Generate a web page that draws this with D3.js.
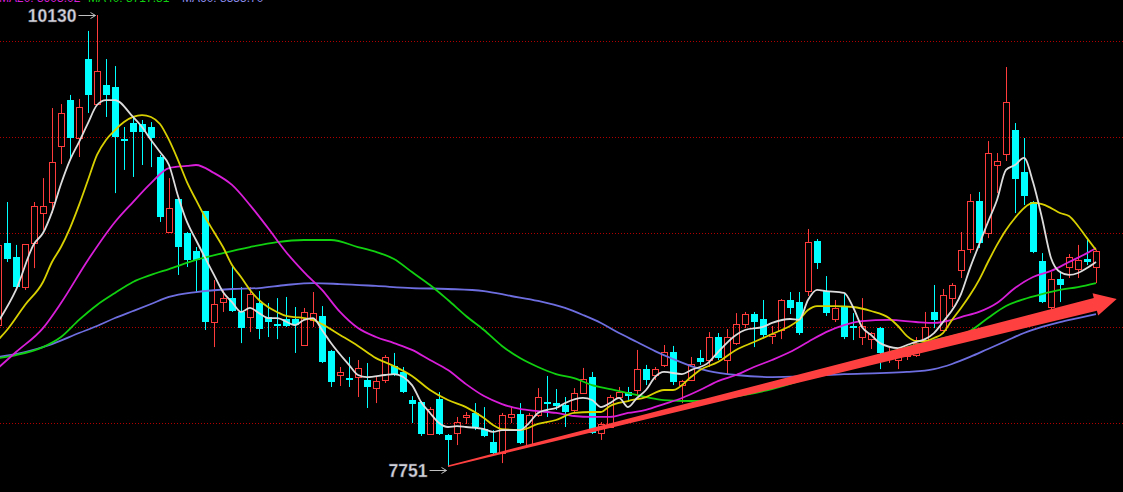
<!DOCTYPE html>
<html><head><meta charset="utf-8">
<script src="https://cdn.jsdelivr.net/npm/d3@7"></script>
<style>html,body{margin:0;padding:0;background:#000;overflow:hidden}</style>
</head><body>
<svg id="c" width="1123" height="492"></svg>
<script>
// ---- data ----
const openP = [8497,8929,8855,8697,8929,9087,9145,9440,9682,9482,
9898,9661,9761,9751,9477,9561,9556,9540,9382,8987,
9161,8982,8887,9098,8513,8618,8639,8566,8539,8613,
8539,8502,8529,8529,8392,8524,8545,8360,8234,8218,
8223,8208,8165,8208,8281,8250,8102,8092,7923,8107,
7918,7928,8013,8034,7949,7881,7823,8013,8028,7865,
8023,8092,8086,8076,8050,8139,8223,7928,7960,8118,
8144,8155,8265,8234,8287,8355,8181,8208,8323,8313,
8434,8313,8402,8502,8555,8529,8439,8471,8629,8618,
8676,8940,8676,8529,8592,8492,8434,8423,8481,8323,
8313,8334,8339,8418,8566,8471,8639,8787,8898,9150,
8982,9340,9398,9524,9303,9145,8834,8592,8740,8803,
8792,8845,8803];
const highP = [8982,9145,8919,8924,9145,9271,9640,9661,9709,9688,
10046,10130,9898,9861,9540,9593,9577,9566,9393,9271,
9171,8987,8908,9098,8734,8682,8803,8697,8697,8676,
8613,8639,8645,8592,8587,8671,8597,8366,8276,8329,
8313,8297,8223,8339,8350,8276,8123,8097,8065,8144,
7923,8013,8039,8086,8065,7944,8034,8065,8086,8034,
8165,8229,8160,8118,8165,8271,8250,7986,8129,8171,
8171,8366,8287,8276,8392,8387,8208,8329,8366,8460,
8455,8476,8560,8566,8566,8629,8492,8634,8671,8671,
9003,8950,8755,8629,8660,8560,8639,8460,8487,8376,
8366,8387,8434,8566,8708,8687,8718,8987,9187,9198,
9466,9403,9856,9561,9482,9150,8876,8776,8782,8871,
8919,8955,8892];
const lowP = [8487,8829,8682,8682,8797,8998,9087,9345,9372,9382,
9614,9656,9593,9192,9314,9277,9340,9329,9040,8982,
8761,8803,8666,8471,8381,8566,8566,8402,8460,8423,
8434,8423,8487,8350,8387,8487,8297,8171,8176,8171,
8118,8060,8086,8192,8229,8139,7981,7913,7918,7918,
7751,7865,7976,7944,7907,7818,7770,7981,7870,7855,
8013,8013,8050,7960,8034,8134,7923,7892,7955,8113,
8092,8129,8181,8208,8276,8181,8086,8202,8287,8276,
8313,8239,8392,8481,8381,8434,8397,8423,8555,8445,
8650,8792,8545,8513,8423,8418,8392,8371,8265,8297,
8265,8313,8329,8413,8481,8466,8592,8745,8876,8903,
8955,9192,9361,9087,9129,8876,8613,8576,8618,8745,
8745,8813,8718];
const closeP = [8919,8845,8697,8924,9124,9124,9356,9614,9482,9645,
9709,9835,9709,9487,9466,9514,9514,9482,9066,9113,
8908,8840,8840,8513,8608,8639,8571,8481,8660,8476,
8513,8497,8492,8497,8566,8560,8302,8197,8250,8208,
8271,8171,8202,8329,8234,8144,8081,7923,8055,7923,
7892,7986,8023,7960,7913,7823,8023,8028,7876,8023,
8118,8081,8071,8039,8139,8213,7928,7976,8118,8144,
8123,8265,8208,8265,8355,8197,8202,8292,8302,8434,
8323,8434,8502,8555,8513,8445,8450,8629,8587,8455,
8934,8824,8560,8587,8434,8481,8492,8455,8350,8355,
8350,8366,8402,8487,8524,8655,8708,8892,9150,8929,
9403,9361,9672,9266,9177,8882,8618,8740,8708,8855,
8840,8829,8887];

// moving averages, sampled at candle indices
const ma5Idx = [0,2,4,5,6,7,8,9,10,11,12,13,15,16,17,18,19,20,21,22,24,25,26,27,28,29,30,31,33,34,35,36,37,39,40,41,43,44,46,47,48,49,50,51,52,54,55,56,58,59,60,61,62,63,65,66,67,68,69,70,71,72,73,74,76,77,79,80,82,83,85,86,88,89,90,91,92,94,95,96,97,98,100,101,102,103,104,105,107,108,109,110,111,112,113,114,115,116,117,118,119,120,121,122];
const ma5 = [8513,8682,8924,8982,9092,9240,9366,9461,9561,9656,9682,9682,9593,9540,9472,9408,9340,9177,9040,8945,8761,8671,8618,8566,8587,8560,8534,8534,8497,8524,8534,8471,8402,8287,8234,8223,8234,8239,8181,8092,8034,7981,7960,7965,7960,7949,7934,7944,7944,7981,8034,8050,8060,8086,8113,8102,8065,8086,8113,8065,8113,8155,8223,8250,8239,8260,8302,8355,8445,8471,8487,8508,8529,8524,8629,8682,8676,8666,8592,8487,8445,8402,8376,8392,8408,8423,8455,8513,8660,8797,8919,9040,9156,9314,9340,9377,9250,9061,8850,8776,8761,8771,8797,8829];
const ma10Idx = [0,1,3,5,6,7,8,9,10,11,12,13,14,15,16,17,18,19,20,21,22,23,24,25,26,27,28,29,30,31,32,33,34,35,36,38,40,42,44,46,48,50,52,54,55,56,58,60,62,64,66,67,68,70,72,74,75,77,78,80,82,84,86,88,89,90,91,93,95,97,99,100,101,102,103,104,105,106,107,108,109,110,111,112,113,114,115,116,117,118,119,120,121,122];
const ma10 = [8418,8471,8603,8724,8829,8908,9008,9129,9261,9393,9472,9524,9566,9593,9603,9593,9556,9472,9366,9250,9156,9066,8987,8908,8813,8750,8682,8629,8592,8566,8545,8539,8534,8524,8502,8445,8387,8323,8281,8229,8155,8102,8065,8007,7971,7949,7944,7976,7997,8034,8039,8039,8071,8097,8118,8155,8155,8223,8260,8302,8366,8408,8450,8492,8524,8576,8597,8597,8592,8571,8534,8492,8439,8413,8413,8429,8455,8524,8587,8655,8734,8829,8919,8998,9061,9113,9140,9134,9113,9087,9071,9019,8955,8892];
const ma20Idx = [0,2,5,7,10,13,15,17,19,21,22,24,26,28,30,32,34,36,38,40,42,44,46,48,50,52,54,56,58,60,62,64,66,68,70,72,74,76,78,80,82,84,86,88,90,92,94,96,99,102,104,106,107,109,111,113,115,117,119,121,122];
const ma20 = [8271,8355,8481,8613,8840,9040,9145,9245,9324,9335,9340,9298,9235,9129,9008,8882,8776,8682,8566,8481,8434,8402,8366,8313,8260,8186,8123,8081,8055,8044,8034,8018,8013,8013,8034,8050,8081,8113,8155,8202,8234,8276,8313,8355,8408,8460,8497,8518,8524,8513,8508,8524,8539,8566,8613,8692,8750,8782,8829,8876,8903];
const ma40Idx = [0,2,5,7,9,11,13,15,17,19,22,25,28,31,34,37,40,42,44,46,48,50,52,54,56,58,60,62,64,66,68,70,72,74,77,80,83,86,89,92,95,98,101,104,106,108,110,112,114,116,118,120,122];
const ma40 = [8323,8339,8381,8434,8524,8603,8666,8724,8761,8792,8840,8876,8908,8934,8945,8945,8908,8882,8845,8776,8708,8629,8545,8471,8387,8323,8276,8239,8218,8181,8160,8139,8118,8102,8097,8107,8129,8160,8202,8250,8292,8339,8381,8418,8439,8466,8534,8597,8634,8660,8682,8697,8718];
const ma60Idx = [0,3,6,9,11,13,15,17,19,22,26,29,32,35,38,42,46,50,54,57,60,63,65,67,69,71,73,75,77,79,82,86,90,94,98,101,104,106,108,110,112,114,116,118,120,122];
const ma60 = [8329,8355,8397,8455,8492,8534,8571,8608,8645,8671,8687,8692,8708,8718,8713,8703,8692,8687,8676,8650,8624,8587,8550,8508,8455,8408,8360,8318,8281,8255,8234,8223,8229,8239,8244,8250,8265,8292,8329,8371,8413,8455,8487,8513,8534,8555];

const gridValues = [9995, 9489, 8984, 8485, 7983];
const legendLabels = ["MA20: 8903.02", "MA40: 8717.81", "MA60: 8555.70"];
const maxLabel = "10130", minLabel = "7751";
const trendStart = {i: 50, p: 7751};
const trendEnd = {i: 124.3, p: 8634};

// ---- drawing ----
const W = 1123, H = 492;
const svg = d3.select("#c");
svg.append("rect").attr("width", W).attr("height", H).attr("fill", "#000");

const n = openP.length;
const x = d3.scaleLinear().domain([0, n - 1]).range([-2, 1096]);
const y = d3.scaleLinear().domain([7751, 10130]).range([466.7, 15]);

// grid
svg.append("g").selectAll("line").data(gridValues).join("line")
  .attr("x1", 0).attr("x2", W)
  .attr("y1", d => Math.round(y(d)) + 0.5).attr("y2", d => Math.round(y(d)) + 0.5)
  .attr("stroke", "#b00000").attr("stroke-width", 1).attr("stroke-dasharray", "1,2");

const candles = d3.range(n).map(i => ({i, o: openP[i], h: highP[i], l: lowP[i], c: closeP[i]}));
const RED = "#ff3c3c", CYAN = "#00ffff";
const cg = svg.append("g");
candles.forEach(d => {
  const cx = Math.round(x(d.i));
  const up = d.c >= d.o;
  const top = y(Math.max(d.o, d.c)), bot = y(Math.min(d.o, d.c));
  const col = up ? RED : CYAN;
  if (up) {
    cg.append("line").attr("x1", cx + 0.5).attr("x2", cx + 0.5).attr("y1", y(d.h)).attr("y2", top).attr("stroke", col);
    cg.append("line").attr("x1", cx + 0.5).attr("x2", cx + 0.5).attr("y1", bot).attr("y2", y(d.l)).attr("stroke", col);
    cg.append("rect").attr("x", cx - 2.5).attr("y", Math.round(top) + 0.5).attr("width", 6)
      .attr("height", Math.max(1, Math.round(bot) - Math.round(top))).attr("fill", "none").attr("stroke", col);
  } else {
    cg.append("line").attr("x1", cx + 0.5).attr("x2", cx + 0.5).attr("y1", y(d.h)).attr("y2", y(d.l)).attr("stroke", col);
    cg.append("rect").attr("x", cx - 3).attr("y", Math.round(top)).attr("width", 7)
      .attr("height", Math.max(2, Math.round(bot) - Math.round(top))).attr("fill", col);
  }
});

// moving averages
const mas = [
  {idx: ma60Idx, v: ma60, color: "#6e6ee0"},
  {idx: ma40Idx, v: ma40, color: "#10d010"},
  {idx: ma20Idx, v: ma20, color: "#d81ed8"},
  {idx: ma10Idx, v: ma10, color: "#d8d000"},
  {idx: ma5Idx, v: ma5, color: "#dcdcdc"}
];
const line = d3.line().x(d => x(d[0])).y(d => y(d[1])).curve(d3.curveMonotoneX);
mas.forEach(m => {
  svg.append("path").attr("d", line(m.idx.map((k, j) => [k, m.v[j]])))
    .attr("fill", "none").attr("stroke", m.color).attr("stroke-width", 1.8);
});

// trend arrow (tapered)
const x0 = x(trendStart.i), y0 = y(trendStart.p) - 0.5;
const xt = x(trendEnd.i), yt = y(trendEnd.p);
const dx = xt - x0, dy = yt - y0, L = Math.hypot(dx, dy);
const ux = dx / L, uy = dy / L, px = -uy, py = ux;
const headLen = 22, headHalf = 11.5;
const bx = xt - ux * headLen, by = yt - uy * headLen;
const w0 = 0.8, w1 = 6.5;
const pts = [
  [x0 + px * w0, y0 + py * w0],
  [bx + px * w1, by + py * w1],
  [bx + px * headHalf, by + py * headHalf],
  [xt, yt],
  [bx - px * headHalf, by - py * headHalf],
  [bx - px * w1, by - py * w1],
  [x0 - px * w0, y0 - py * w0]
];
svg.append("path").attr("d", "M" + pts.map(p => p.join(",")).join("L") + "Z").attr("fill", "#ff4040");

// extreme labels
const iMax = highP.indexOf(d3.max(highP)), iMin = lowP.indexOf(d3.min(lowP));
function extremeLabel(i, label, ty, ay) {
  const cx = Math.round(x(i)) + 0.5;
  const g = svg.append("g");
  g.append("line").attr("x1", cx - 19).attr("x2", cx - 2).attr("y1", ay).attr("y2", ay)
    .attr("stroke", "#c0c0c0").attr("stroke-width", 1);
  g.append("path").attr("d", `M${cx - 2},${ay} L${cx - 7},${ay - 3} M${cx - 2},${ay} L${cx - 7},${ay + 3}`)
    .attr("stroke", "#c0c0c0").attr("fill", "none").attr("stroke-width", 1);
  g.append("text").attr("x", cx - 21).attr("y", ty).attr("text-anchor", "end")
    .attr("font-family", "Liberation Sans, Arial, sans-serif").attr("font-weight", "bold")
    .attr("font-size", 17.5).attr("fill", "#d4d4dc").attr("stroke", "#505060").attr("stroke-width", 0.4)
    .text(label);
}
extremeLabel(iMax, maxLabel, 22, Math.round(y(highP[iMax])) + 0.5);
extremeLabel(iMin, minLabel, 477, 470.5);

// top legend (cut off by the frame, as in the original)
const legColors = ["#d81ed8", "#10d010", "#8a8ae8"];
const legX = [-1, 88, 182];
legendLabels.forEach((t, k) => {
  svg.append("text").attr("x", legX[k]).attr("y", 2).attr("font-family", "Liberation Sans, Arial, sans-serif")
    .attr("font-size", 12).attr("fill", legColors[k]).text(t);
});
</script>
</body></html>
